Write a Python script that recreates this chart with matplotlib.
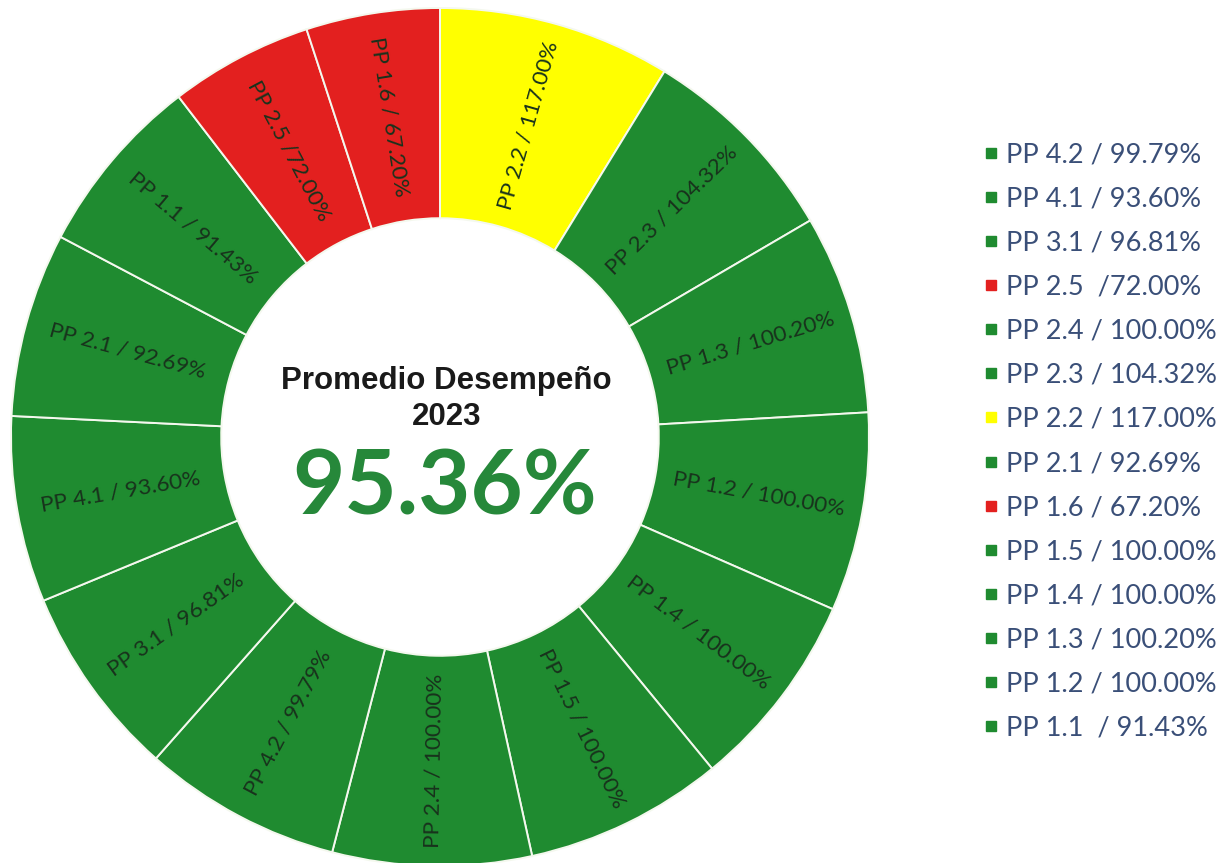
import matplotlib
matplotlib.use("Agg")
import matplotlib.pyplot as plt
from matplotlib.lines import Line2D
import numpy as np

# Programme codes and performance (%), in the order drawn clockwise from 12 o'clock
codes = ["2.2", "2.3", "1.3", "1.2", "1.4", "1.5", "2.4",
         "4.2", "3.1", "4.1", "2.1", "1.1", "2.5", "1.6"]
values = [117.00, 104.32, 100.20, 100.00, 100.00, 100.00, 100.00,
          99.79, 96.81, 93.60, 92.69, 91.43, 72.00, 67.20]

# Legend order, top to bottom
legend_codes = ["4.2", "4.1", "3.1", "2.5", "2.4", "2.3", "2.2",
                "2.1", "1.6", "1.5", "1.4", "1.3", "1.2", "1.1"]

title_lines = ["Promedio Desempeño", "2023"]
year_average = np.mean(values)

GREEN = "#1f8b30"
RED = "#e3201f"
YELLOW = "#ffff00"


def status_color(v):
    if v > 110:
        return YELLOW
    if v < 80:
        return RED
    return GREEN


def slice_label(code, v):
    if code == "2.5":
        return f"PP {code} /{v:.2f}%"
    return f"PP {code} / {v:.2f}%"


def legend_label(code, v):
    if code == "2.5":
        return f"PP {code}  /{v:.2f}%"
    if code == "1.1":
        return f"PP {code}  / {v:.2f}%"
    return f"PP {code} / {v:.2f}%"


colors = [status_color(v) for v in values]
value_of = dict(zip(codes, values))

W, H = 1232, 863
fig = plt.figure(figsize=(W / 100, H / 100), dpi=100)

# Donut axes, centre and radius in pixels
cx, cy, R = 440, 437, 429
ax = fig.add_axes([(cx - R) / W, (H - cy - R) / H, 2 * R / W, 2 * R / H])

hole = 0.51
wedges, _ = ax.pie(values, colors=colors, startangle=90, counterclock=False,
                   radius=1.0, wedgeprops=dict(width=1 - hole, edgecolor="#f4f8ee",
                                               linewidth=1.4))
ax.set_xlim(-1, 1)
ax.set_ylim(-1, 1)
ax.axis("off")

r_lab = (1 + hole) / 2
for w, code, v in zip(wedges, codes, values):
    ang = (w.theta1 + w.theta2) / 2
    rad = np.deg2rad(ang)
    x, y = r_lab * np.cos(rad), r_lab * np.sin(rad)
    a = (ang + 180) % 360 - 180
    rot = a if -90 <= a <= 90 else a - 180 if a > 90 else a + 180
    ax.text(x, y, slice_label(code, v), rotation=rot, rotation_mode="anchor",
            ha="center", va="center", fontsize=16.2, family="Lato",
            color="#18321c")

# Centre text
ax.text(0.015, 0.131, title_lines[0], ha="center", va="center", fontsize=22.5,
        fontweight="bold", family="Liberation Sans", color="#1a1a1a")
ax.text(0.015, 0.047, title_lines[1], ha="center", va="center", fontsize=22.5,
        fontweight="bold", family="Liberation Sans", color="#1a1a1a")
ax.text(0.01, -0.119, f"{year_average:.2f}%", ha="center", va="center",
        fontsize=65, fontweight="bold", family="Lato", color="#26883a")

handles = [Line2D([], [], marker="s", linestyle="none", markersize=7,
                  color=status_color(value_of[c])) for c in legend_codes]
labels = [legend_label(c, value_of[c]) for c in legend_codes]
fig.legend(handles, labels, loc="upper left",
           bbox_to_anchor=(984 / W, 1 - 142 / H), frameon=False,
           labelcolor="#3a4f78", prop=dict(family="Lato", size=19.5),
           handlelength=0.5, handletextpad=0.3, labelspacing=0.707,
           borderpad=0, borderaxespad=0)

fig.savefig("out.png", dpi=100, facecolor="white")
